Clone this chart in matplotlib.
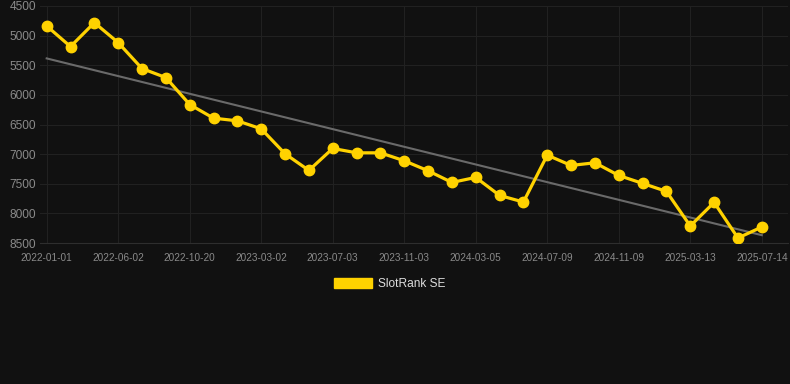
import numpy as np
import matplotlib
matplotlib.use("Agg")
import matplotlib.pyplot as plt
from matplotlib.patches import Patch

tick_labels = ["2022-01-01", "2022-06-02", "2022-10-20", "2023-03-02", "2023-07-03",
               "2023-11-03", "2024-03-05", "2024-07-09", "2024-11-09", "2025-03-13",
               "2025-07-14"]
ranks = [4837, 5185, 4781, 5118, 5556, 5708, 6163, 6393, 6438, 6573,
         6994, 7275, 6904, 6978, 6978, 7112, 7281, 7478, 7393, 7697,
         7809, 7017, 7191, 7146, 7360, 7494, 7629, 8213, 7815, 8416, 8230]
series_name = "SlotRank SE"

bg = "#111111"
yellow = "#ffd200"

plt.rcParams['font.family'] = ['Liberation Sans', 'DejaVu Sans']
fig = plt.figure(figsize=(7.9, 3.84), dpi=100, facecolor=bg)
ax = fig.add_axes([40/790, 1-243/384, 748/790, 237/384])
ax.set_facecolor(bg)

x = np.arange(len(ranks))
coef = np.polyfit(x, ranks, 1)
trend = np.polyval(coef, x)
ax.plot([x[0], x[-1]], [trend[0], trend[-1]], color="#6a6a6a", lw=1.5, zorder=2)
ax.plot(x, ranks, color=yellow, lw=2.3, marker="o", ms=7.5, zorder=3)

ax.set_ylim(8500, 4500)
ax.set_yticks(np.arange(4500, 8501, 500))
ax.set_xlim(-0.28, 31.1)
ax.set_xticks(x[::3])
ax.set_xticklabels(tick_labels)
ax.grid(True, color="#212121", lw=0.8)
ax.set_axisbelow(True)
for s in ["top", "right", "left"]:
    ax.spines[s].set_visible(False)
ax.spines["bottom"].set_color("#2e2e2e")
ax.tick_params(axis="x", colors="#8a8a8a", labelsize=7.2, length=0, pad=7)
ax.tick_params(axis="y", colors="#8a8a8a", labelsize=8.6, length=0, pad=3)

leg = fig.legend(handles=[Patch(facecolor=yellow, edgecolor=yellow, label=series_name)],
                 loc="center", bbox_to_anchor=(389.5/790, 1-284/384), frameon=False,
                 fontsize=8.6, handlelength=3.2, handleheight=0.9, handletextpad=0.5)
for t in leg.get_texts():
    t.set_color("#dddddd")

fig.savefig("out.png", dpi=100, facecolor=bg)
